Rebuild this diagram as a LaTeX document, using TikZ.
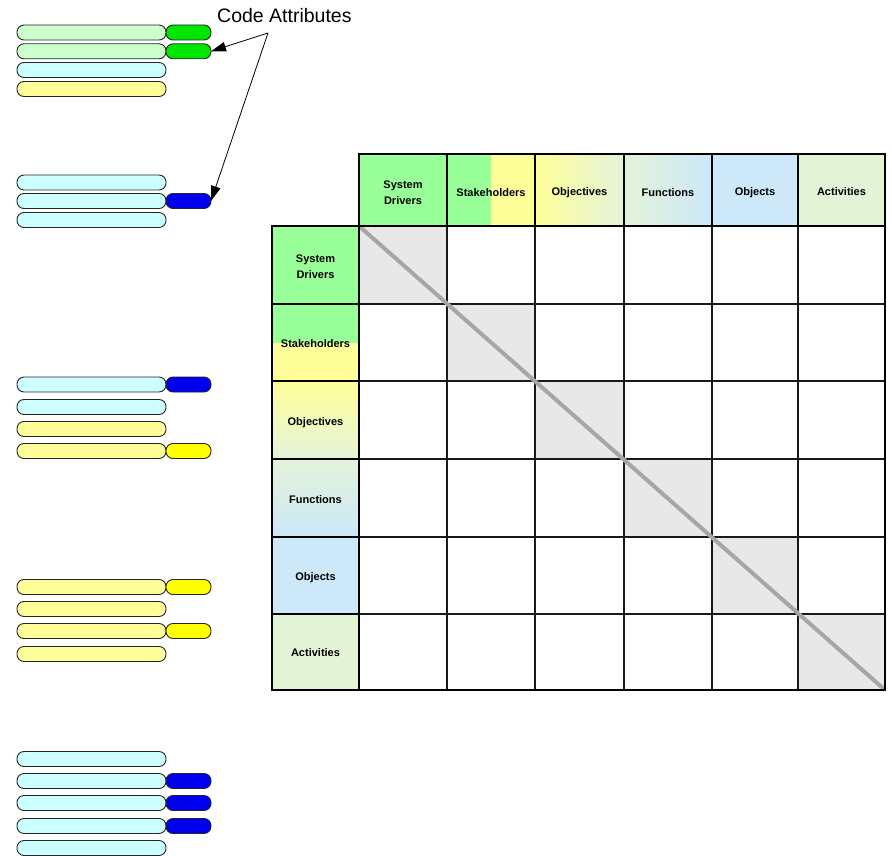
\documentclass[tikz,border=0pt]{standalone}
\usepackage{fontspec}
\setmainfont{Liberation Sans}
\usetikzlibrary{arrows.meta}
\definecolor{sdgreen}{HTML}{99FF99}
\definecolor{stkyellow}{HTML}{FFFF99}
\definecolor{palegreen}{HTML}{E4F3DA}
\definecolor{objblue}{HTML}{CCE8F9}
\definecolor{actgreen}{HTML}{E3F3D6}
\definecolor{diaggray}{HTML}{E8E8E8}
\definecolor{diagline}{HTML}{A6A6A6}
\definecolor{barlgreen}{HTML}{CCFFCC}
\definecolor{barcyan}{HTML}{CCFFFF}
\definecolor{baryellow}{HTML}{FFFF99}
\definecolor{codegreen}{HTML}{00E600}
\definecolor{codeblue}{HTML}{0000EE}
\definecolor{codeyellow}{HTML}{FFFF00}
\tikzset{
  bar/.style={draw=black!85, line width=0.9pt, rounded corners=7pt, minimum height=15pt, inner sep=0pt, outer sep=0pt},
  longbar/.style={bar, minimum width=149pt},
  shortbar/.style={bar, minimum width=45pt},
  hdr/.style={draw=black, line width=2.6pt, inner sep=0pt, outer sep=0pt, minimum height=72pt},
  lft/.style={draw=black, line width=2.6pt, inner sep=0pt, outer sep=0pt, minimum width=87pt},
  celltext/.style={inner sep=0pt, align=center, font=\fontsize{11}{16}\selectfont\bfseries},
  gridline/.style={draw=black!90, line width=1.6pt},
  calink/.style={draw=black, line width=0.8pt, -{Triangle[length=15pt,width=9.5pt]}}
}
\begin{document}
\begin{tikzpicture}[x=1pt,y=-1pt]
\useasboundingbox (0,0) rectangle (892,856);

% ---------- left bars ----------
% group 1
\node[longbar, fill=barlgreen] (a1) at (91.5,32.5) {};
\node[shortbar, fill=codegreen] (a1s) at (188.5,32.5) {};
\node[longbar, fill=barlgreen] (a2) at (91.5,51.3) {};
\node[shortbar, fill=codegreen] (a2s) at (188.5,51.3) {};
\node[longbar, fill=barcyan] (a3) at (91.5,70) {};
\node[longbar, fill=baryellow] (a4) at (91.5,89) {};
% group 2
\node[longbar, fill=barcyan] (b1) at (91.5,182.5) {};
\node[longbar, fill=barcyan] (b2) at (91.5,201) {};
\node[shortbar, fill=codeblue] (b2s) at (188.5,201) {};
\node[longbar, fill=barcyan] (b3) at (91.5,220) {};
% group 3
\node[longbar, fill=barcyan] (c1) at (91.5,384.5) {};
\node[shortbar, fill=codeblue] (c1s) at (188.5,384.5) {};
\node[longbar, fill=barcyan] (c2) at (91.5,407) {};
\node[longbar, fill=baryellow] (c3) at (91.5,429) {};
\node[longbar, fill=baryellow] (c4) at (91.5,451) {};
\node[shortbar, fill=codeyellow] (c4s) at (188.5,451) {};
% group 4
\node[longbar, fill=baryellow] (d1) at (91.5,587) {};
\node[shortbar, fill=codeyellow] (d1s) at (188.5,587) {};
\node[longbar, fill=baryellow] (d2) at (91.5,609) {};
\node[longbar, fill=baryellow] (d3) at (91.5,631) {};
\node[shortbar, fill=codeyellow] (d3s) at (188.5,631) {};
\node[longbar, fill=baryellow] (d4) at (91.5,654) {};
% group 5
\node[longbar, fill=barcyan] (e1) at (91.5,759) {};
\node[longbar, fill=barcyan] (e2) at (91.5,781) {};
\node[shortbar, fill=codeblue] (e2s) at (188.5,781) {};
\node[longbar, fill=barcyan] (e3) at (91.5,803) {};
\node[shortbar, fill=codeblue] (e3s) at (188.5,803) {};
\node[longbar, fill=barcyan] (e4) at (91.5,826) {};
\node[shortbar, fill=codeblue] (e4s) at (188.5,826) {};
\node[longbar, fill=barcyan] (e5) at (91.5,848) {};

% ---------- Code Attributes label ----------
\node[anchor=base west, inner sep=0pt, font=\fontsize{19.5}{22}\selectfont] (catext) at (217,23) {Code Attributes};
\coordinate (cafork) at (268,33);
\draw[calink] (cafork) -- (a2s.east);
\draw[calink] (cafork) -- (b2s.east);

% ---------- matrix body ----------
\fill[diaggray] (359,226) rectangle (447,304);
\fill[diaggray] (447,304) rectangle (535,381);
\fill[diaggray] (535,381) rectangle (624,459);
\fill[diaggray] (624,459) rectangle (712,537);
\fill[diaggray] (712,537) rectangle (798,614);
\fill[diaggray] (798,614) rectangle (885,690);
\foreach \x in {447,535,624,712,798} \draw[gridline] (\x,226) -- (\x,690);
\foreach \y in {304,381,459,537,614} \draw[gridline] (359,\y) -- (885,\y);
\coordinate (dstart) at (359,226);
\coordinate (dend) at (885,690);
\draw[diagline, line width=4pt] (dstart) -- (dend);

% ---------- header row ----------
\node[hdr, minimum width=88pt, fill=sdgreen] (h1) at (403,190) {};
\node[hdr, minimum width=88pt, fill=stkyellow,
  path picture={\fill[sdgreen] (path picture bounding box.south west) rectangle (path picture bounding box.north);}] (h2) at (491,190) {};
\node[hdr, minimum width=89pt, left color=stkyellow, right color=palegreen] (h3) at (579.5,190) {};
\node[hdr, minimum width=88pt, left color=palegreen, right color=objblue] (h4) at (668,190) {};
\node[hdr, minimum width=86pt, fill=objblue] (h5) at (755,190) {};
\node[hdr, minimum width=87pt, fill=actgreen] (h6) at (841.5,190) {};
\node[celltext] (h1t) at ([yshift=-2.5pt]h1.center) {System\\Drivers};
\node[celltext] (h2t) at ([yshift=-3pt]h2.center) {Stakeholders};
\node[celltext] (h3t) at ([yshift=-3pt]h3.center) {Objectives};
\node[celltext] (h4t) at ([yshift=-3pt]h4.center) {Functions};
\node[celltext] (h5t) at ([yshift=-3pt]h5.center) {Objects};
\node[celltext] (h6t) at ([yshift=-2pt]h6.center) {Activities};

% ---------- left column ----------
\node[lft, minimum height=78pt, fill=sdgreen] (l1) at (315.5,265) {};
\node[lft, minimum height=77pt, fill=stkyellow,
  path picture={\fill[sdgreen] (path picture bounding box.north west) rectangle (path picture bounding box.east);}] (l2) at (315.5,342.5) {};
\node[lft, minimum height=78pt, top color=stkyellow, bottom color=palegreen] (l3) at (315.5,420) {};
\node[lft, minimum height=78pt, top color=palegreen, bottom color=objblue] (l4) at (315.5,498) {};
\node[lft, minimum height=77pt, fill=objblue] (l5) at (315.5,575.5) {};
\node[lft, minimum height=76pt, fill=actgreen] (l6) at (315.5,652) {};
\node[celltext] (l1t) at ([yshift=-2pt]l1.center) {System\\Drivers};
\node[celltext] (l2t) at ([yshift=-1pt]l2.center) {Stakeholders};
\node[celltext] (l3t) at ([yshift=-3pt]l3.center) {Objectives};
\node[celltext] (l4t) at ([yshift=-2pt]l4.center) {Functions};
\node[celltext] (l5t) at ([yshift=-2pt]l5.center) {Objects};
\node[celltext] (l6t) at ([yshift=-1pt]l6.center) {Activities};

% ---------- outer border of matrix ----------
\draw[black, line width=2.6pt] (359,226) -- (359,690) -- (885,690) -- (885,226);
\end{tikzpicture}
\end{document}
